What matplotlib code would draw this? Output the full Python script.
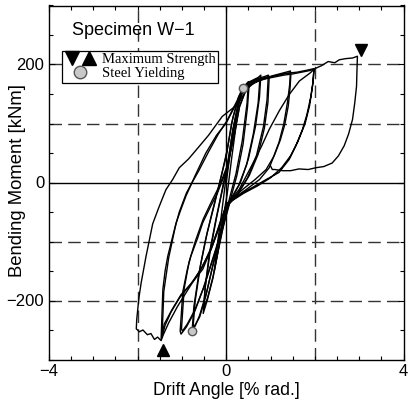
import matplotlib
matplotlib.use("Agg")
import matplotlib.pyplot as plt
from matplotlib.lines import Line2D
from matplotlib.legend_handler import HandlerTuple
from matplotlib.ticker import MultipleLocator

plt.rcParams['font.family'] = ['Liberation Sans', 'DejaVu Sans']

# ---------------- data (drift angle [% rad.], bending moment [kNm]) ----------------
c025_x = [0.00, 0.08, 0.16, 0.25, 0.21, 0.12, 0.02, -0.08, -0.17, -0.27, -0.21, -0.11, -0.01]
c025_y = [0, 45, 90, 120, 90, 40, -20, -65, -110, -150, -110, -55, 5]

c050_x = [-0.01, 0.10, 0.22, 0.33, 0.42, 0.50, 0.47, 0.36, 0.22, 0.08, -0.05, -0.17, -0.30, -0.42,
          -0.51, -0.47, -0.36, -0.22, -0.08, 0.04]
c050_y = [5, 55, 110, 148, 164, 171, 135, 70, 15, -25, -65, -110, -160, -195,
          -214, -175, -115, -60, -10, 35]

c050b_x = [0.04, 0.14, 0.26, 0.38, 0.46, 0.52, 0.48, 0.38, 0.24, 0.10, -0.03, -0.16, -0.30, -0.43,
           -0.52, -0.48, -0.38, -0.24, -0.10, 0.04]
c050b_y = [35, 85, 130, 155, 166, 170, 128, 65, 12, -27, -62, -108, -162, -200,
           -222, -180, -120, -65, -15, 35]

c075a_x = [0.04, 0.15, 0.28, 0.40, 0.52, 0.64, 0.72, 0.78, 0.75, 0.66, 0.50, 0.32, 0.14, 0.00,
           -0.12, -0.27, -0.44, -0.60, -0.70, -0.77, -0.73, -0.62, -0.47, -0.31, -0.15, 0.00]
c075a_y = [35, 90, 138, 160, 169, 175, 178, 182, 145, 95, 40, 0, -25, -40,
           -80, -130, -185, -225, -243, -251, -210, -155, -98, -48, 0, 45]

c075b_x = [0.00, 0.12, 0.26, 0.38, 0.50, 0.62, 0.70, 0.76, 0.72, 0.61, 0.46, 0.28, 0.10, -0.02,
           -0.15, -0.30, -0.46, -0.60, -0.69, -0.75, -0.70, -0.58, -0.43, -0.27, -0.12, 0.02]
c075b_y = [45, 100, 142, 162, 170, 174, 176, 177, 135, 82, 30, -5, -28, -42,
           -90, -140, -192, -228, -240, -246, -200, -140, -85, -38, 8, 55]

c100a_x = [0.02, 0.15, 0.30, 0.45, 0.60, 0.75, 0.88, 0.95, 0.92, 0.84, 0.68, 0.48, 0.25, 0.05,
           -0.10, -0.30, -0.52, -0.72, -0.90, -1.02, -1.04, -0.98, -0.88, -0.80, -0.65, -0.53,
           -0.35, -0.20, 0.00, 0.18]
c100a_y = [55, 110, 148, 164, 172, 177, 180, 182, 140, 95, 45, 8, -20, -38,
           -80, -128, -180, -220, -245, -257, -252, -185, -148, -125, -95, -68,
           -40, -18, 20, 80]

c100b_x = [0.18, 0.30, 0.45, 0.60, 0.75, 0.88, 0.97, 0.94, 0.86, 0.72, 0.52, 0.30, 0.08,
           -0.08, -0.28, -0.50, -0.70, -0.88, -0.99, -1.01, -0.95, -0.84, -0.70, -0.52,
           -0.33, -0.15, 0.03, 0.18]
c100b_y = [80, 128, 158, 170, 175, 178, 180, 135, 92, 48, 12, -15, -34,
           -78, -125, -176, -215, -240, -252, -248, -180, -135, -100, -62,
           -32, -5, 30, 80]

c150a_x = [0.18, 0.30, 0.45, 0.65, 0.85, 1.05, 1.25, 1.45, 1.43, 1.38, 1.30, 1.19, 1.05, 0.97,
           0.75, 0.45, 0.20, 0.02, -0.15, -0.30, -0.53, -0.75, -1.02, -1.22, -1.40, -1.47,
           -1.45, -1.43, -1.38, -1.32, -1.22, -1.13, -1.02, -0.91, -0.70, -0.46, -0.22, 0.00,
           0.20, 0.37]
c150a_y = [80, 130, 158, 170, 176, 181, 185, 189, 165, 135, 100, 68, 40, 25,
           5, -12, -25, -35, -70, -105, -147, -168, -190, -215, -240, -266,
           -222, -181, -150, -125, -95, -68, -45, -23, 12, 50, 80, 101,
           130, 155]

c150b_x = [0.37, 0.55, 0.80, 1.05, 1.30, 1.46, 1.44, 1.40, 1.32, 1.22, 1.08, 0.90, 0.65, 0.40,
           0.18, 0.00, -0.18, -0.35, -0.55, -0.80, -1.05, -1.25, -1.38, -1.45, -1.43, -1.41,
           -1.30, -1.15, -1.06, -0.90, -0.80, -0.62, -0.40, -0.18, 0.02, 0.22, 0.40]
c150b_y = [155, 166, 174, 180, 184, 186, 160, 130, 98, 72, 45, 22, 5, -10,
           -24, -38, -78, -112, -145, -172, -195, -220, -242, -262, -225, -185,
           -128, -75, -50, -18, -4, 20, 52, 82, 105, 135, 157]

c200a_x = [0.40, 0.60, 0.85, 1.10, 1.35, 1.60, 1.80, 1.98, 1.96, 1.91, 1.82, 1.72, 1.57, 1.42,
           1.19, 0.90, 0.60, 0.30, 0.05, 0.29, 0.55, 0.80, 0.97, 1.20, 1.42, 1.65, 1.90, 1.98,
           1.95, 1.88, 1.78, 1.62, 1.45, 1.25, 1.00, 0.70, 0.40, 0.15, 0.02]
c200a_y = [157, 170, 177, 181, 185, 187, 190, 193, 172, 146, 115, 90, 62, 39,
           17, 5, -8, -20, -35, -12, 25, 62, 90, 122, 149, 172, 186, 192,
           165, 130, 100, 70, 45, 25, 8, -6, -18, -30, -38]

c200n_x = [0.02, -0.15, -0.35, -0.60, -0.85, -1.10, -1.30, -1.42, -1.47, -1.55, -1.62, -1.70,
           -1.78, -1.88, -1.96, -2.03, -2.02, -1.97, -1.92, -1.81, -1.66, -1.52, -1.43, -1.36,
           -1.21, -1.06, -0.85, -0.68, -0.40, -0.09, 0.25, 0.40, 0.55]
c200n_y = [-38, -75, -115, -150, -180, -210, -238, -258, -268, -262, -266, -256,
           -258, -250, -253, -248, -232, -195, -170, -125, -70, -42, -25, -12,
           5, 25, 40, 55, 80, 112, 132, 150, 165]

c300_x = [0.55, 0.70, 0.90, 1.10, 1.30, 1.50, 1.70, 1.90, 2.00, 2.15, 2.30, 2.45, 2.55, 2.70,
          2.85, 2.96, 2.95, 2.94, 2.90, 2.85, 2.76, 2.66, 2.53, 2.39, 2.20, 2.02, 1.85, 1.64,
          1.45, 1.27, 1.10, 1.04, 1.00]
c300_y = [165, 172, 176, 179, 182, 184, 187, 190, 193, 198, 205, 203, 208, 210,
          211, 214, 190, 163, 135, 107, 82, 62, 45, 33, 27, 25, 22, 23,
          20, 20, 22, 22, 28]

cycles = [(c025_x, c025_y), (c050_x, c050_y), (c050b_x, c050b_y), (c075a_x, c075a_y),
          (c075b_x, c075b_y), (c100a_x, c100a_y), (c100b_x, c100b_y), (c150a_x, c150a_y),
          (c150b_x, c150b_y), (c200a_x, c200a_y), (c200n_x, c200n_y), (c300_x, c300_y)]

max_down_x, max_down_y = [3.03], [225]
max_up_x, max_up_y = [-1.42], [-284]
yield_x = [0.37, -0.77]
yield_y = [161, -251]

# ---------------- figure ----------------
fig = plt.figure(figsize=(4.09, 4.12), dpi=100)
ax = fig.add_axes([49 / 409, 1 - 359.5 / 412, 354.5 / 409, 354 / 412])

dash = (0, (9, 4.5))
for gx in [-2, 2]:
    ax.axvline(gx, color='#333333', lw=1.0, linestyle=dash, zorder=1)
for gy in [-200, -100, 100, 200]:
    ax.axhline(gy, color='#333333', lw=1.0, linestyle=dash, zorder=1)
ax.axvline(0, color='black', lw=1.0, zorder=1)
ax.axhline(0, color='black', lw=1.0, zorder=1)

for cx, cy in cycles:
    ax.plot(cx, cy, color='black', lw=1.0, zorder=2)

ax.plot(max_down_x, max_down_y, linestyle='none', marker='v', color='black', markersize=9, zorder=4)
ax.plot(max_up_x, max_up_y, linestyle='none', marker='^', color='black', markersize=9, zorder=4)
ax.plot(yield_x, yield_y, linestyle='none', marker='o', markerfacecolor='#c8c8c8',
        markeredgecolor='#555555', markersize=6, zorder=4)

ax.set_xlim(-4, 4)
ax.set_ylim(-300, 300)
ax.set_xticks([-4, 0, 4])
ax.set_yticks([-200, 0, 200])
ax.xaxis.set_minor_locator(MultipleLocator(0.5))
ax.yaxis.set_minor_locator(MultipleLocator(50))
ax.tick_params(which='both', direction='in', top=True, right=True, labelsize=12, width=0.8)
ax.tick_params(which='major', length=4)
ax.tick_params(which='minor', length=3)
for s in ax.spines.values():
    s.set_linewidth(1.0)

ax.set_xlabel('Drift Angle [% rad.]', fontsize=12.7, labelpad=2)
ax.set_ylabel('Bending Moment [kNm]', fontsize=13.3)
ax.yaxis.set_label_coords(-0.066, 0.505)

ax.text(0.066, 0.952, 'Specimen W\u22121', transform=ax.transAxes, fontsize=13,
        ha='left', va='top')

h_down = Line2D([], [], linestyle='none', marker='v', color='black', markersize=10)
h_up = Line2D([], [], linestyle='none', marker='^', color='black', markersize=10)
h_yield = Line2D([], [], linestyle='none', marker='o', markerfacecolor='#c8c8c8',
                 markeredgecolor='#555555', markersize=9)
leg = ax.legend(handles=[(h_down, h_up), h_yield], labels=['Maximum Strength', 'Steel Yielding'],
                handler_map={tuple: HandlerTuple(ndivide=None, pad=0.1)},
                loc='upper left', bbox_to_anchor=(0.037, 0.8715), borderaxespad=0,
                borderpad=0.15, handletextpad=0.4, labelspacing=0.05, handlelength=2.2,
                fancybox=False, framealpha=1, edgecolor='black',
                prop={'family': 'Liberation Serif', 'size': 10.5})
leg.get_frame().set_linewidth(0.9)

fig.savefig('out.png', dpi=100)
